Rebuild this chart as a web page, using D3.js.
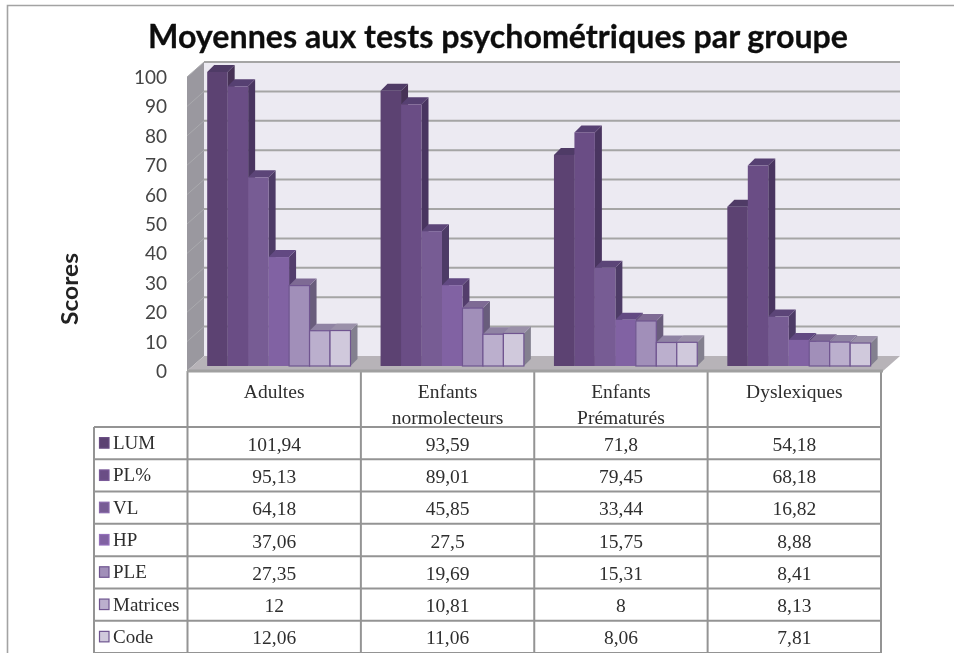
<!DOCTYPE html>
<html>
<head>
  <meta charset="utf-8">
  <title>Moyennes aux tests psychométriques par groupe</title>
  <style>
    html, body { margin: 0; padding: 0; background: #fff; }
    svg { display: block; }
    .tick text { font-family: Lato, sans-serif; font-size: 19px; fill: #444; }
    .cell { font-family: "Liberation Serif", serif; font-size: 19.5px; fill: #2e2e2e; text-anchor: middle; }
    .rowlabel { font-family: "Liberation Serif", serif; font-size: 19px; fill: #2e2e2e; }
  </style>
  <script src="https://d3js.org/d3.v7.min.js"></script>
</head>
<body>
  <script>
    // données
    var groups = ['Adultes', 'Enfants normolecteurs', 'Enfants Prématurés', 'Dyslexiques'];
    var groupLines = [['Adultes'], ['Enfants', 'normolecteurs'], ['Enfants', 'Prématurés'], ['Dyslexiques']];
    var seriesNames = ['LUM', 'PL%', 'VL', 'HP', 'PLE', 'Matrices', 'Code'];
    var LUM = [101.94, 93.59, 71.8, 54.18];
    var PL = [95.13, 89.01, 79.45, 68.18];
    var VL = [64.18, 45.85, 33.44, 16.82];
    var HP = [37.06, 27.5, 15.75, 8.88];
    var PLE = [27.35, 19.69, 15.31, 8.41];
    var Matrices = [12, 10.81, 8, 8.13];
    var Code = [12.06, 11.06, 8.06, 7.81];
    var seriesValues = [LUM, PL, VL, HP, PLE, Matrices, Code];
    var yTicks = [0, 10, 20, 30, 40, 50, 60, 70, 80, 90, 100];

    // couleurs : face, côté, dessus, contour
    var fronts = ['#5b4372', '#6a4e85', '#775b94', '#8162a3', '#a18fb9', '#bbafcd', '#d0c9dc'];
    var sides = ['#463356', '#4a3660', '#4d3a66', '#523d6c', '#695d7c', '#7c7591', '#83808f'];
    var tops = ['#4f3a66', '#573f72', '#5c4478', '#624a82', '#7e6a94', '#8f83a3', '#9a90a9'];

    var width = 954, height = 653;
    var svg = d3.select('body').append('svg')
      .attr('width', width)
      .attr('height', height);

    // léger flou : la référence est une capture agrandie
    svg.append('filter').attr('id', 'soft')
      .attr('x', 0).attr('y', 0).attr('width', 1).attr('height', 1)
      .attr('filterUnits', 'objectBoundingBox')
      .append('feGaussianBlur').attr('stdDeviation', 0.55);

    var root = svg.append('g').attr('filter', 'url(#soft)');
    root.append('rect').attr('width', width).attr('height', height).attr('fill', '#fff');

    // cadre de l'image
    root.append('path')
      .attr('d', 'M7.5,' + height + 'V5.5H' + width)
      .attr('fill', 'none').attr('stroke', '#a3a3a3').attr('stroke-width', 1.6);

    // 1. échelles
    var depth = {x: 17, y: 15};
    var wallLeft = 204, wallRight = 900;
    var wallTop = 62, wallBottom = 356;
    var tableRight = 881;
    var y = d3.scaleLinear().domain([0, 100]).range([wallBottom, wallTop]).clamp(true);
    var x0 = d3.scaleBand().domain(groups).range([wallLeft - depth.x + 0.5, tableRight]);
    var x1 = d3.scaleBand().domain(seriesNames).range([19.7, 163]);
    var barBase = wallBottom + 10;
    var barDepth = 7;
    var barY = function(v) { return y(v) + 10; };

    // 2. parois du graphique 3D
    root.append('rect')
      .attr('x', wallLeft).attr('y', wallTop)
      .attr('width', wallRight - wallLeft).attr('height', wallBottom - wallTop)
      .attr('fill', '#eceaf2');
    root.append('path')
      .attr('d', 'M' + (wallLeft - depth.x) + ',' + (wallTop + depth.y) + 'L' + wallLeft + ',' + wallTop +
        'V' + wallBottom + 'L' + (wallLeft - depth.x) + ',' + (wallBottom + depth.y) + 'Z')
      .attr('fill', '#9a989f');
    root.append('path')
      .attr('d', 'M' + (wallLeft - depth.x) + ',' + (wallBottom + depth.y) + 'L' + wallLeft + ',' + wallBottom +
        'H' + wallRight + 'L' + (wallRight - depth.x) + ',' + (wallBottom + depth.y) + 'Z')
      .attr('fill', '#b7b3b8');

    var grid = root.append('g');
    grid.selectAll('line.back').data(yTicks.slice(1)).enter().append('line')
      .attr('class', 'back')
      .attr('x1', wallLeft).attr('x2', wallRight)
      .attr('y1', d => y(d)).attr('y2', d => y(d))
      .attr('stroke', '#a5a5a5').attr('stroke-width', 2);
    grid.selectAll('line.side').data(yTicks.slice(1)).enter().append('line')
      .attr('class', 'side')
      .attr('x1', wallLeft - depth.x).attr('x2', wallLeft)
      .attr('y1', d => y(d) + depth.y).attr('y2', d => y(d))
      .attr('stroke', '#aaaaae').attr('stroke-width', 1);

    // 3. barres, de gauche à droite pour que chacune recouvre le côté de la précédente
    groups.forEach(function(g, gi) {
      var gBars = root.append('g').attr('transform', 'translate(' + x0(g) + ',0)');
      seriesNames.forEach(function(s, si) {
        var v = seriesValues[si][gi];
        var left = x1(s), w = x1.bandwidth(), top = barY(v);
        var light = si >= 4;
        gBars.append('path')
          .attr('d', 'M' + (left + w) + ',' + top + 'l' + barDepth + ',' + (-barDepth) +
            'V' + (barBase - barDepth) + 'L' + (left + w) + ',' + barBase + 'Z')
          .attr('fill', sides[si]);
        gBars.append('path')
          .attr('d', 'M' + left + ',' + top + 'l' + barDepth + ',' + (-barDepth) + 'h' + w + 'l' + (-barDepth) + ',' + barDepth + 'Z')
          .attr('fill', tops[si]);
        gBars.append('rect')
          .attr('x', left).attr('y', top)
          .attr('width', w).attr('height', barBase - top)
          .attr('fill', fronts[si])
          .attr('stroke', light ? '#6f5590' : 'none')
          .attr('stroke-width', light ? 1.2 : 0);
      });
    });

    // 4. axe des scores
    var yAxis = d3.axisLeft(y).tickValues(yTicks).tickSize(0).tickPadding(0);
    root.append('g')
      .attr('transform', 'translate(167,' + (depth.y + 0.5) + ')')
      .call(yAxis)
      .call(a => a.select('.domain').remove());

    // 5. tableau de données
    var tableTop = wallBottom + depth.y;
    var headBottom = 427;
    var tableLeft = 94;
    var rowY = d3.scaleBand().domain(seriesNames).range([headBottom, height]);
    var lineColor = '#949494';
    var table = root.append('g');

    table.append('rect')
      .attr('x', x0.range()[0]).attr('y', tableTop)
      .attr('width', tableRight - x0.range()[0]).attr('height', headBottom - tableTop)
      .attr('fill', '#fff');

    table.selectAll('line.h').data(seriesNames).enter().append('line')
      .attr('class', 'h')
      .attr('x1', tableLeft).attr('x2', tableRight)
      .attr('y1', d => rowY(d)).attr('y2', d => rowY(d))
      .attr('stroke', lineColor).attr('stroke-width', 2);
    table.append('line')
      .attr('x1', tableLeft).attr('x2', tableRight)
      .attr('y1', height - 0.5).attr('y2', height - 0.5)
      .attr('stroke', lineColor).attr('stroke-width', 1);
    table.append('line')
      .attr('x1', tableLeft).attr('x2', tableLeft)
      .attr('y1', headBottom).attr('y2', height)
      .attr('stroke', lineColor).attr('stroke-width', 2);
    table.selectAll('line.v').data(groups).enter().append('line')
      .attr('class', 'v')
      .attr('x1', d => x0(d)).attr('x2', d => x0(d))
      .attr('y1', tableTop).attr('y2', height)
      .attr('stroke', lineColor).attr('stroke-width', 2);
    table.append('line')
      .attr('x1', tableRight).attr('x2', tableRight)
      .attr('y1', tableTop).attr('y2', height)
      .attr('stroke', lineColor).attr('stroke-width', 2);
    // arête avant du sol
    table.append('line')
      .attr('x1', wallLeft - depth.x).attr('x2', wallRight - depth.x)
      .attr('y1', tableTop).attr('y2', tableTop)
      .attr('stroke', '#a0a0a0').attr('stroke-width', 3);

    // en-têtes de colonnes
    groups.forEach(function(g, gi) {
      groupLines[gi].forEach(function(line, li) {
        table.append('text').attr('class', 'cell')
          .attr('x', x0(g) + x0.bandwidth() / 2)
          .attr('y', 398 + li * 26)
          .text(line);
      });
    });

    // lignes : légende + valeurs
    seriesNames.forEach(function(s, si) {
      var cy = rowY(s) + rowY.bandwidth() / 2;
      table.append('rect')
        .attr('x', 99.5).attr('y', cy - 5.5)
        .attr('width', 9.5).attr('height', 10.5)
        .attr('fill', fronts[si])
        .attr('stroke', si >= 4 ? '#6f5590' : d3.color(fronts[si]).brighter(0.4))
        .attr('stroke-width', 1.2);
      table.append('text').attr('class', 'rowlabel')
        .attr('x', 113).attr('y', cy + 6)
        .text(s);
      groups.forEach(function(g, gi) {
        table.append('text').attr('class', 'cell')
          .attr('x', x0(g) + x0.bandwidth() / 2)
          .attr('y', cy + 7.5)
          .text(String(seriesValues[si][gi]).replace('.', ','));
      });
    });

    // 6. titres
    root.append('text')
      .attr('x', 498).attr('y', 48)
      .attr('text-anchor', 'middle')
      .attr('textLength', 700).attr('lengthAdjust', 'spacingAndGlyphs')
      .attr('font-family', 'Lato, sans-serif')
      .attr('font-weight', 700).attr('font-size', 33)
      .attr('fill', '#111').attr('stroke', '#111').attr('stroke-width', 0.3)
      .text('Moyennes aux tests psychométriques par groupe');
    root.append('text')
      .attr('transform', 'translate(78,289) rotate(-90)')
      .attr('text-anchor', 'middle')
      .attr('textLength', 72).attr('lengthAdjust', 'spacingAndGlyphs')
      .attr('font-family', 'Lato, sans-serif')
      .attr('font-weight', 700).attr('font-size', 23)
      .attr('fill', '#222')
      .text('Scores');
  </script>
</body>
</html>
